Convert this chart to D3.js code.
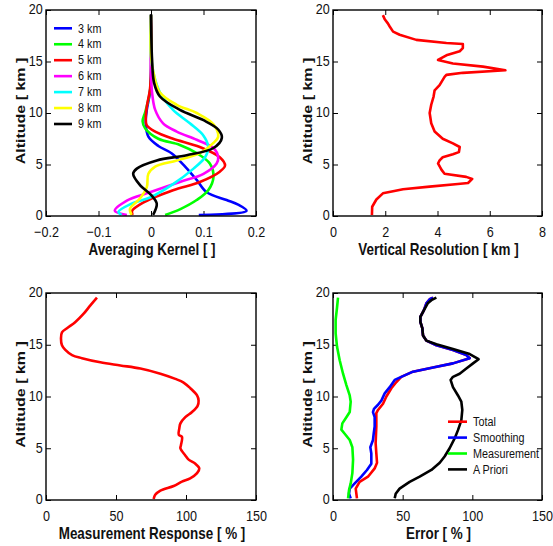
<!DOCTYPE html>
<html>
<head>
<meta charset="utf-8">
<script src="https://cdn.jsdelivr.net/npm/d3@7"></script>
<style>
  body { margin: 0; background: #fff; }
  svg { font-family: "Liberation Sans", Arial, sans-serif; }
</style>
</head>
<body>
<div id="chart"></div>
<script>
// ---- data: [value, altitude km] ----
var kernelNames = ["3 km", "4 km", "5 km", "6 km", "7 km", "8 km", "9 km"];
var kernelColors = ["#0000ff", "#00ff00", "#ff0000", "#ff00ff", "#00ffff", "#ffff00", "#000000"];

var ak3 = [[0.091,0.1],[0.182,0.5],[0.166,1.1],[0.144,1.55],[0.106,2.3],[0.087,3.5],[0.065,4.8],[0.039,6.1],[0.014,6.8],[-0.005,7.7],[-0.010,9],[-0.008,10.3],[-0.002,12],[0,14],[0,19.5]];
var ak4 = [[0.027,0.1],[0.055,0.65],[0.087,1.55],[0.109,2.5],[0.119,3.8],[0.112,5.1],[0.087,6.1],[0.055,6.9],[0.014,7.5],[-0.011,8.5],[-0.016,9.2],[-0.011,10.1],[-0.005,11.3],[0,12.9],[0,19.5]];
var ak5 = [[-0.035,0.1],[-0.036,0.5],[-0.015,1.3],[0.042,2.5],[0.093,3.3],[0.131,4.3],[0.141,4.9],[0.131,5.7],[0.093,6.7],[0.042,7.5],[0.008,8.2],[-0.008,8.8],[-0.010,9.5],[-0.008,10.6],[-0.002,12.3],[0,14],[0,19.5]];
var ak6 = [[-0.046,0.1],[-0.069,0.5],[-0.046,1.5],[-0.002,2.3],[0.055,3.3],[0.100,4.1],[0.125,5.1],[0.128,5.7],[0.119,6.6],[0.087,7.4],[0.049,8.2],[0.023,9],[0.008,10.3],[0.002,12],[0,14],[0,19.5]];
var ak7 = [[-0.056,0.1],[-0.062,0.4],[-0.037,1.2],[-0.002,1.8],[0.042,3.1],[0.081,4.6],[0.103,5.7],[0.109,6.7],[0.100,7.8],[0.074,9],[0.042,10.3],[0.017,12],[0.006,13.6],[0,15.5],[0,19.5]];
var ak8 = [[-0.037,0.1],[-0.040,0.7],[-0.021,1.7],[-0.008,2.8],[-0.005,4.1],[0.008,4.8],[0.049,5.4],[0.093,6.1],[0.119,7.1],[0.128,7.7],[0.119,8.9],[0.087,10],[0.049,10.8],[0.017,12],[0.006,13.6],[0,15.5],[0,19.5]];
var ak9 = [[0.004,0.1],[0.011,1.2],[0.001,2],[-0.021,3],[-0.034,4.1],[-0.027,4.6],[0.011,5.4],[0.068,5.9],[0.119,6.6],[0.135,7.6],[0.128,8.4],[0.100,9.3],[0.055,10.3],[0.017,11.6],[0.006,12.9],[0.002,15.2],[0,19.6]];
var kernels = [ak3, ak4, ak5, ak6, ak7, ak8, ak9];

var vertRes = [[1.49,0.1],[1.5,0.9],[1.66,1.6],[1.91,2.2],[2.3,2.4],[2.68,2.6],[3.7,2.85],[4.78,3.1],[5.17,3.2],[5.33,3.6],[5.1,3.8],[4.27,4.1],[4.15,4.5],[4.02,5.1],[4.08,5.4],[4.2,5.7],[4.59,6.0],[4.82,6.2],[4.85,6.7],[4.59,7.05],[4.2,7.5],[3.89,8.2],[3.76,9.0],[3.7,10.0],[3.76,10.8],[3.85,11.6],[3.89,12.2],[4.08,12.7],[4.27,13.5],[4.34,13.7],[4.97,13.9],[6.6,14.15],[5.74,14.5],[4.59,14.8],[4.02,15.15],[4.34,15.6],[4.85,16.0],[4.97,16.3],[4.97,16.7],[4.34,16.8],[3.19,17.1],[2.55,17.6],[2.3,17.9],[2.17,18.4],[2.1,18.7],[1.98,19.1],[1.91,19.5]];

var measResp = [[76.9,0.1],[78,0.5],[81.7,0.9],[91.2,1.35],[97.1,1.77],[103,2.1],[107.9,2.6],[109.5,3.05],[106.7,3.5],[101.9,3.9],[99.5,4.3],[96,5.0],[96.4,5.3],[97.1,6.1],[94.8,6.3],[95.2,6.9],[96,7.4],[99.5,8.0],[104.3,8.5],[108.3,9.1],[109,9.6],[107.9,10.1],[103.1,10.8],[98.3,11.35],[92.4,11.7],[81.7,12.2],[67.4,12.7],[53.1,13.0],[38.8,13.3],[25.7,13.7],[18.6,14.0],[13.8,14.5],[11.4,14.95],[10.7,15.6],[11.4,16.2],[15,16.6],[21,17.2],[26.9,18.0],[31.7,18.8],[36.4,19.55]];

var errorNames = ["Total", "Smoothing", "Measurement", "A Priori"];
var errorColors = ["#ff0000", "#0000ff", "#00ff00", "#000000"];

var errUpper = [[49,11.9],[57.4,12.4],[71.8,12.8],[86.1,13.2],[98.1,13.7],[95.7,14.0],[86.1,14.5],[74.2,14.95],[67,15.4],[64.6,15.9],[64.1,16.6],[62.7,17.2],[62.7,17.7],[65.1,18.3],[67,19.0],[69.4,19.4],[71.8,19.55]];
var errTotal = [[17.2,0.16],[16.3,1.1],[19.1,1.75],[25.1,2.25],[29.9,3.05],[31.6,3.6],[31.1,4.5],[30.6,5.5],[31.1,7.1],[31.1,8.4],[32.3,8.7],[35.9,9.3],[38.3,10],[41.9,10.8],[45.5,11.4]].concat(errUpper);
var errSmooth = [[12.7,0.16],[11.5,0.6],[12,1.1],[15.6,1.6],[20.3,2.25],[24.4,2.9],[27.5,3.5],[27.5,4.5],[26.8,5.1],[28.7,5.8],[29.2,6.4],[29.9,7.1],[29.9,8.0],[28.7,8.5],[29.4,8.8],[32.3,9.2],[34.7,9.6],[37.1,10.3],[40.7,10.9],[44.3,11.6]].concat(errUpper);
var errMeas = [[10.8,0.16],[11.5,0.96],[12.7,1.6],[13.9,2.6],[14.4,3.9],[13.9,5.1],[12,5.8],[8.4,6.4],[6,6.8],[6.7,7.4],[9.6,8.0],[12,8.5],[12.7,9.5],[12,10.1],[9.6,11.1],[7.2,12.2],[4.8,13.5],[2.9,14.8],[1.9,16.1],[1.9,17.4],[2.9,18.6],[3.6,19.55]];
var errApriori = [[44.3,0.16],[45,0.6],[47.8,1.1],[55,1.75],[62.2,2.25],[70.6,2.9],[76.6,3.6],[80.1,4.2],[83.7,5.0],[87.3,5.95],[89.7,6.75],[92.1,7.7],[92.8,8.7],[92.1,9.5],[89.7,10.1],[86.1,10.9],[84.4,11.6],[86.1,11.9],[90.9,12.2],[95.7,12.7],[100.5,13.2],[104.5,13.6],[98.1,14.1],[86.1,14.6],[74.2,15.05],[67,15.4],[64.6,15.9],[64.1,16.6],[62.7,17.2],[62.7,17.7],[65.1,18.3],[68,19.0],[71,19.35],[74.2,19.55]];
var errors = [errTotal, errSmooth, errMeas, errApriori];

var altTicks = [0, 5, 10, 15, 20];
var akTicks = [-0.2, -0.1, 0, 0.1, 0.2];
var resTicks = [0, 2, 4, 6, 8];
var pctTicks = [0, 50, 100, 150];

// ---- layout ----
var svg = d3.select("#chart").append("svg")
    .attr("width", 553)
    .attr("height", 546);

var sx = 0.84; // text in the figure is horizontally squeezed
var lw = 2.6;

function txt(g, x, y, s, size, weight, anchor, k) {
    return g.append("text")
        .attr("transform", `translate(${x},${y}) scale(${k || sx},1)`)
        .attr("text-anchor", anchor || "middle")
        .style("font-size", size + "px")
        .style("font-weight", weight || "normal")
        .text(s);
}

function panel(opts) {
    var w = opts.x1 - opts.x0, h = opts.y1 - opts.y0;
    var g = svg.append("g").attr("transform", `translate(${opts.x0},${opts.y0})`);
    var x = d3.scaleLinear().domain(opts.xdom).range([0, w]);
    var y = d3.scaleLinear().domain([0, 20]).range([h, 0]);

    var fmt = opts.fmt || (d => d);
    var bottom = g.append("g").attr("transform", `translate(0,${h})`)
        .call(d3.axisBottom(x).tickValues(opts.xticks).tickSizeInner(-5).tickSizeOuter(0).tickPadding(9.5)
            .tickFormat(fmt));
    var left = g.append("g")
        .call(d3.axisLeft(y).tickValues(altTicks).tickSizeInner(-5).tickSizeOuter(0).tickPadding(4));
    g.append("g").call(d3.axisTop(x).tickValues(opts.xticks).tickSizeInner(-5).tickSizeOuter(0).tickFormat(""));
    g.append("g").attr("transform", `translate(${w},0)`)
        .call(d3.axisRight(y).tickValues(altTicks).tickSizeInner(-5).tickSizeOuter(0).tickFormat(""));
    g.selectAll(".domain").remove();
    g.selectAll(".tick line").attr("stroke", "#000").attr("stroke-width", 1);
    bottom.selectAll("text").attr("dy", "0.78em");
    left.selectAll("text").attr("dy", "0.25em");
    g.selectAll(".tick text")
        .attr("fill", "#111")
        .style("font-size", "15px")
        .style("font-family", "'Liberation Sans', Arial, sans-serif")
        .attr("transform", `scale(${sx},1)`);

    var line = d3.line().x(d => x(d[0])).y(d => y(d[1])).curve(opts.curve || d3.curveLinear);
    opts.series.forEach(function(s, i) {
        g.append("path")
            .datum(s)
            .attr("fill", "none")
            .attr("stroke", opts.colors[i])
            .attr("stroke-width", lw)
            .attr("stroke-linejoin", "round")
            .attr("d", line);
    });

    g.append("rect").attr("width", w).attr("height", h)
        .attr("fill", "none").attr("stroke", "#000").attr("stroke-width", 1.4);

    // axis titles
    txt(g, w / 2 + 1, h + 39, opts.xlabel, 16, "bold").attr("fill", "#111");
    g.append("text")
        .attr("transform", `translate(${opts.ylabX},${h / 2 - 2}) scale(${sx},1) rotate(-90)`)
        .attr("text-anchor", "middle")
        .style("font-size", "16px")
        .style("font-weight", "bold")
        .attr("fill", "#111")
        .text("Altitude [ km ]");
    return g;
}

var p1 = panel({x0: 46, x1: 256, y0: 10, y1: 216, xdom: [-0.2, 0.2], xticks: akTicks,
    fmt: d => d === 0 ? "0" : d3.format(".1f")(d).replace("-", "\u2013"),
    series: kernels, colors: kernelColors, xlabel: "Averaging Kernel [ ]", ylabX: -21,
    curve: d3.curveCatmullRom.alpha(0.5)});
var p2 = panel({x0: 333, x1: 542, y0: 10, y1: 216, xdom: [0, 8], xticks: resTicks,
    series: [vertRes], colors: ["#ff0000"], xlabel: "Vertical Resolution [ km ]", ylabX: -21});
var p3 = panel({x0: 46, x1: 256, y0: 293, y1: 500, xdom: [0, 150], xticks: pctTicks,
    series: [measResp], colors: ["#ff0000"], xlabel: "Measurement Response [ % ]", ylabX: -21,
    curve: d3.curveCatmullRom.alpha(0.5)});
var p4 = panel({x0: 333, x1: 542, y0: 293, y1: 500, xdom: [0, 150], xticks: pctTicks,
    series: errors, colors: errorColors, xlabel: "Error [ % ]", ylabX: -21});

// legends
kernelNames.forEach(function(n, i) {
    var cy = 28.3 + i * 15.95 - 10;
    p1.append("line").attr("x1", 8).attr("x2", 26).attr("y1", cy).attr("y2", cy)
        .attr("stroke", kernelColors[i]).attr("stroke-width", lw);
    txt(p1, 32, cy + 4.2, n, 12, "normal", "start", 0.9).attr("fill", "#111");
});
errorNames.forEach(function(n, i) {
    var cy = 421.7 + i * 15.9 - 293;
    p4.append("line").attr("x1", 115).attr("x2", 134).attr("y1", cy).attr("y2", cy)
        .attr("stroke", errorColors[i]).attr("stroke-width", lw);
    txt(p4, 140, cy + 4.6, n, 13.5, "normal", "start", 0.8).attr("fill", "#111");
});
</script>
</body>
</html>
